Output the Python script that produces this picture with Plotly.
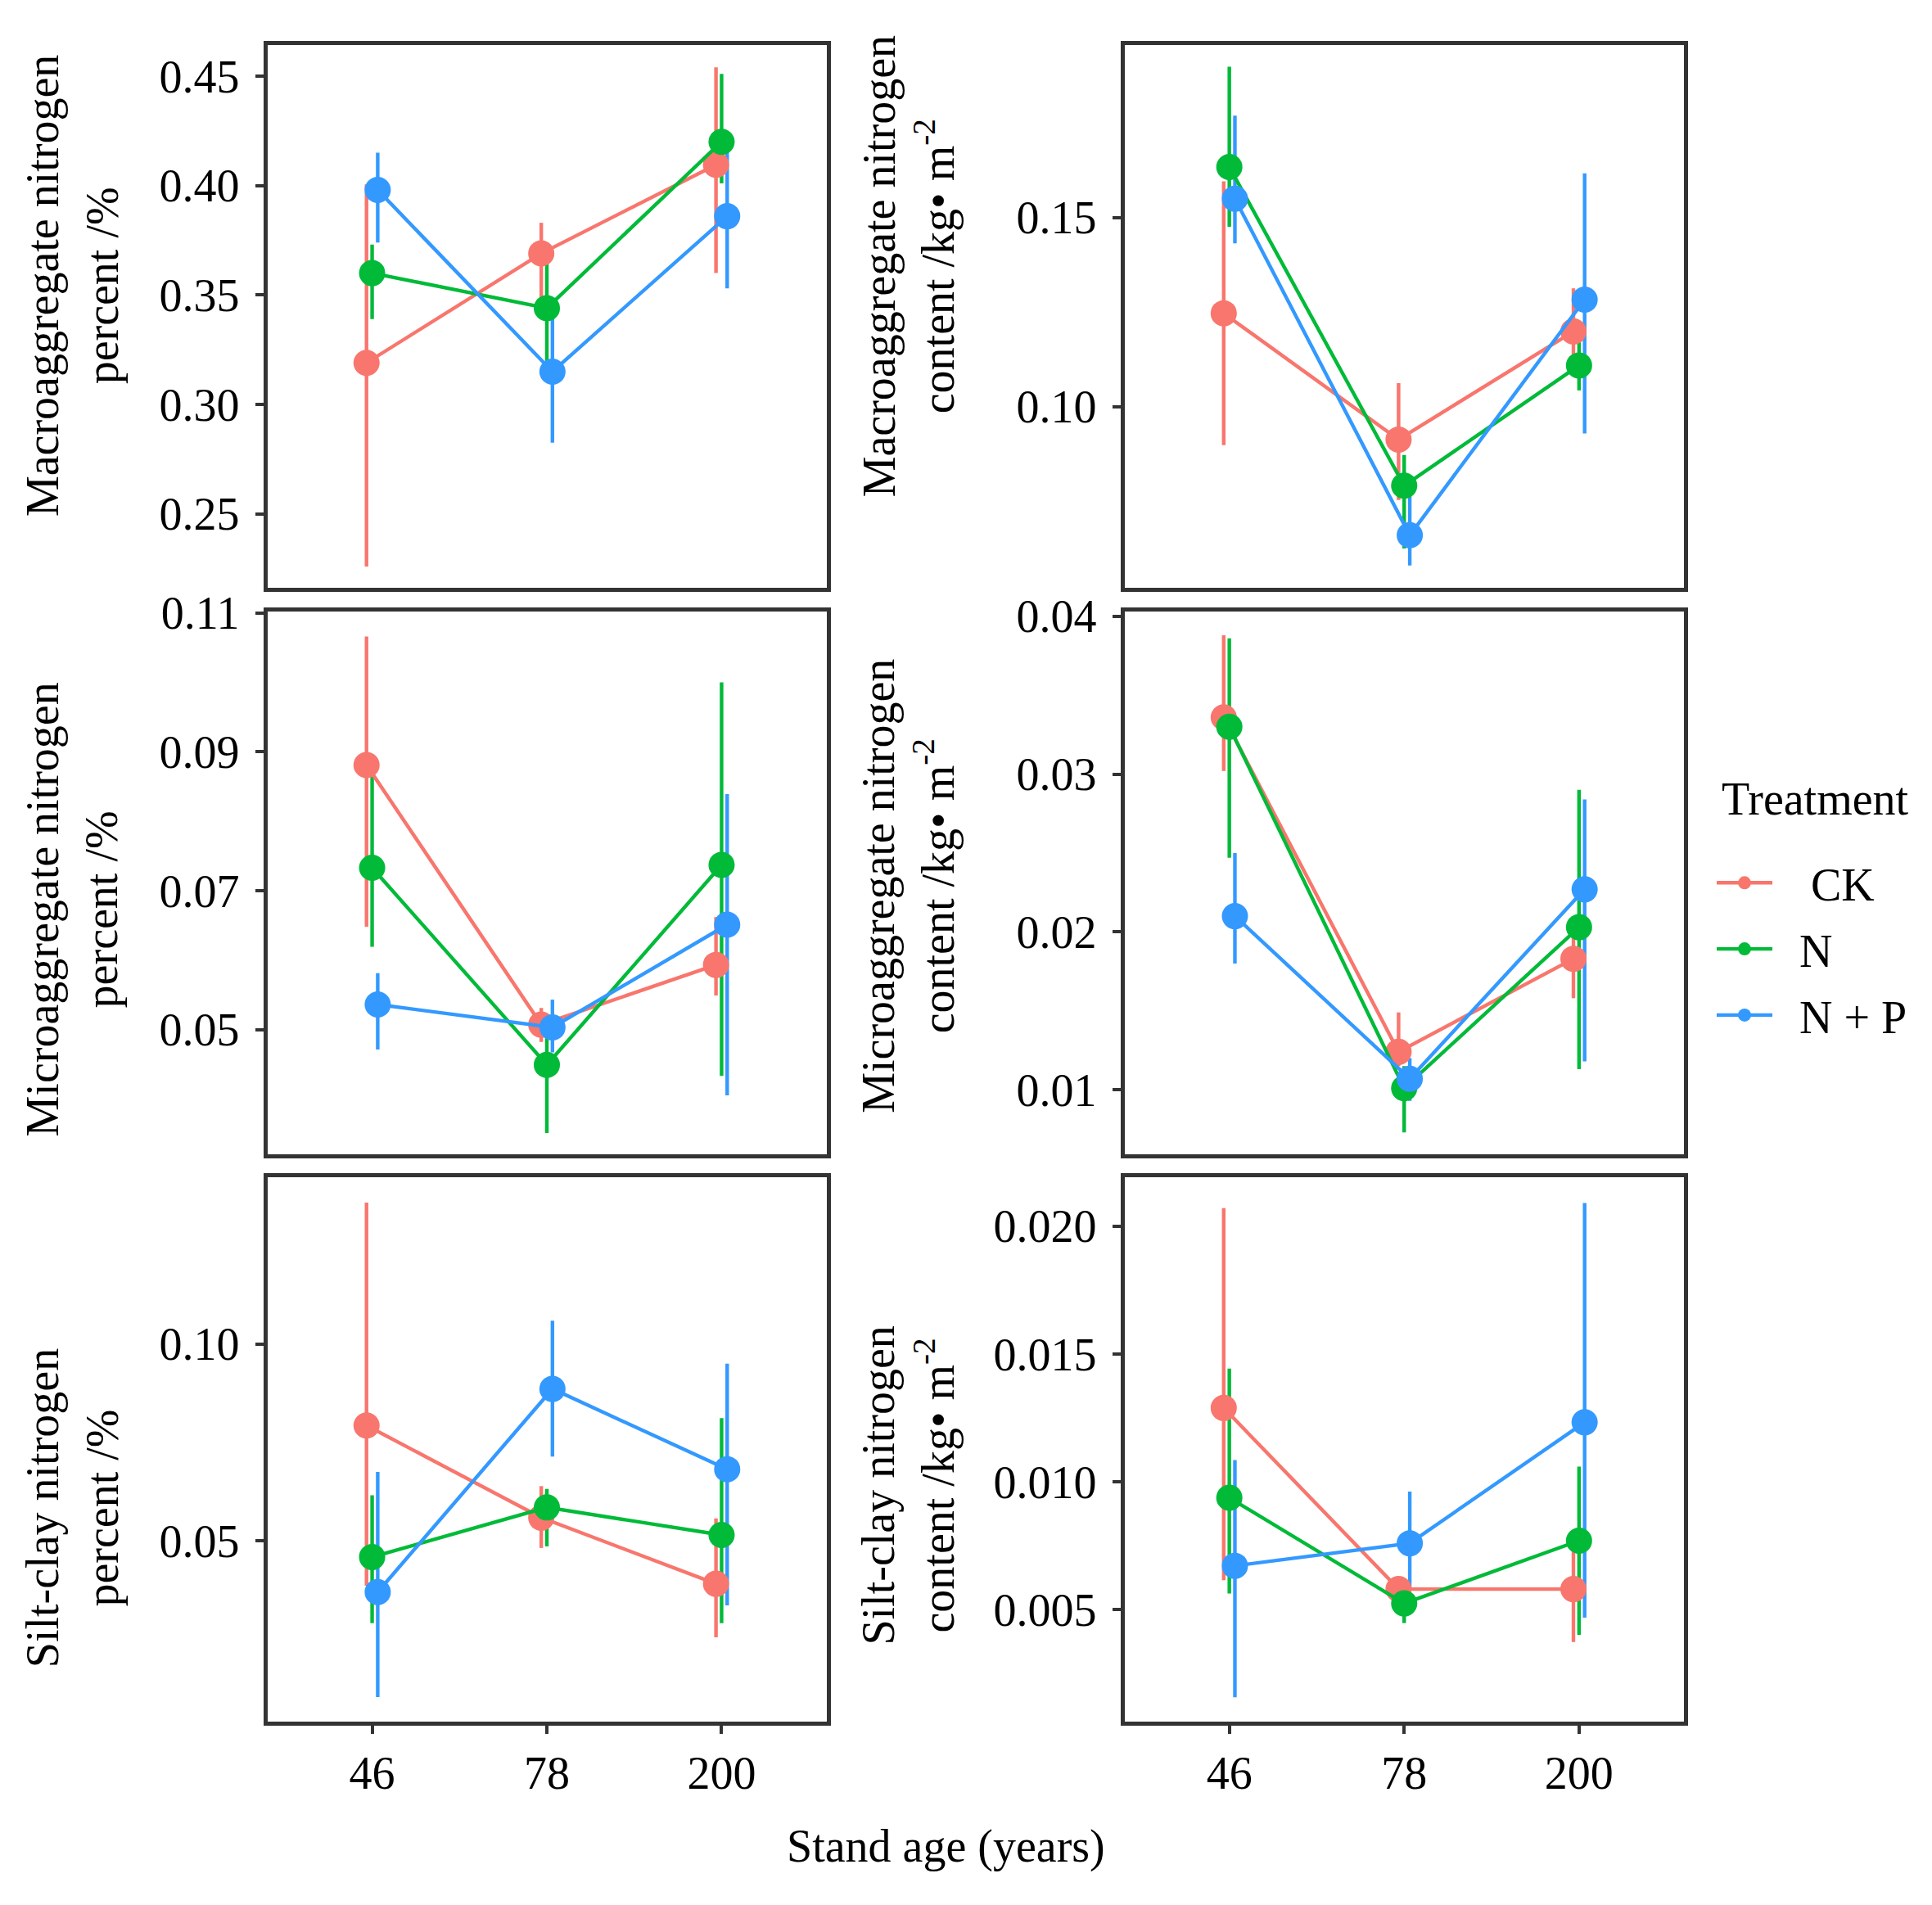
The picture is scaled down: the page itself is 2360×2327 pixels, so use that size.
import plotly.graph_objects as go
from plotly.subplots import make_subplots

# ---- data (mean, lower end, upper end of the error bar) ----
ages = ["46", "78", "200"]
treatments = ["CK", "N", "N + P"]

# rows: CK, N, N + P ; columns: 46, 78, 200 years
macro_pct_mean = [[0.319, 0.369, 0.4095], [0.360, 0.344, 0.420], [0.398, 0.315, 0.386]]
macro_pct_lo = [[0.226, 0.347, 0.360], [0.339, 0.318, 0.401], [0.374, 0.2825, 0.353]]
macro_pct_hi = [[0.4005, 0.383, 0.454], [0.373, 0.373, 0.451], [0.415, 0.3475, 0.416]]

macro_cont_mean = [[0.1247, 0.0913, 0.1199], [0.1634, 0.0791, 0.1109], [0.155, 0.066, 0.1283]]
macro_cont_lo = [[0.0898, 0.0753, 0.109], [0.1476, 0.0625, 0.1043], [0.1432, 0.058, 0.0929]]
macro_cont_hi = [[0.1596, 0.1062, 0.1313], [0.1899, 0.0872, 0.118], [0.177, 0.0763, 0.1617]]

micro_pct_mean = [[0.0881, 0.0507, 0.0593], [0.0733, 0.0449, 0.0737], [0.0536, 0.0503, 0.0651]]
micro_pct_lo = [[0.0648, 0.0482, 0.0549], [0.0619, 0.0351, 0.0433], [0.0471, 0.0467, 0.0405]]
micro_pct_hi = [[0.1066, 0.0531, 0.0662], [0.0868, 0.0497, 0.1000], [0.0581, 0.0543, 0.0839]]

micro_cont_mean = [[0.0336, 0.0124, 0.0183], [0.0330, 0.0101, 0.0203], [0.0210, 0.0107, 0.0227]]
micro_cont_lo = [[0.0302, 0.0115, 0.0158], [0.0247, 0.0073, 0.0113], [0.0180, 0.0093, 0.0118]]
micro_cont_hi = [[0.0388, 0.0149, 0.0196], [0.0386, 0.0115, 0.0290], [0.0250, 0.0120, 0.0284]]

silt_pct_mean = [[0.0793, 0.0559, 0.0391], [0.0459, 0.0585, 0.0515], [0.0370, 0.0886, 0.0682]]
silt_pct_lo = [[0.0386, 0.0482, 0.0255], [0.0291, 0.0486, 0.0291], [0.0103, 0.0714, 0.0336]]
silt_pct_hi = [[0.1359, 0.0639, 0.0557], [0.0616, 0.0632, 0.0812], [0.0675, 0.1059, 0.0950]]

silt_cont_mean = [[0.01289, 0.00581, 0.00581], [0.00938, 0.00525, 0.0077], [0.00672, 0.0076, 0.01233]]
silt_cont_lo = [[0.00616, 0.0055, 0.00374], [0.00564, 0.00448, 0.00402], [0.00158, 0.00574, 0.00469]]
silt_cont_hi = [[0.0207, 0.0061, 0.00735], [0.01443, 0.0058, 0.0106], [0.01085, 0.00962, 0.0209]]

# ---- styling ----
W, H = 2360, 2327
FONT = "Liberation Serif"
FS = 56
colors = ["#F8766D", "#00BA38", "#3399FF"]
legend_names = ["   CK", "  N", "  N + P"]
dodge = [-0.032, 0.0, 0.032]
frame = "#333333"

# panel edges in px (the page sits a little lower than the figure box)
col_dom = [(318.5, 1001.5), (1365.5, 2049)]
row_dom = [(18.5, 690), (719, 1390.5), (1419, 2092)]

# (row, col, mean, lo, hi, title, tickvals, tickformat, y range, title centre y px)
panels = [
    (1, 1, macro_pct_mean, macro_pct_lo, macro_pct_hi,
     "Macroaggregate nitrogen<br>percent /%",
     [0.25, 0.30, 0.35, 0.40, 0.45], ".2f", [0.2161, 0.4641], 316),
    (1, 2, macro_cont_mean, macro_cont_lo, macro_cont_hi,
     "Macroaggregate nitrogen<br>content /kg• m<sup>-2</sup>",
     [0.10, 0.15], ".2f", [0.052, 0.1956], 292),
    (2, 1, micro_pct_mean, micro_pct_lo, micro_pct_hi,
     "Microaggregate nitrogen<br>percent /%",
     [0.05, 0.07, 0.09, 0.11], ".2f", [0.032, 0.1102], 1088),
    (2, 2, micro_cont_mean, micro_cont_lo, micro_cont_hi,
     "Microaggregate nitrogen<br>content /kg• m<sup>-2</sup>",
     [0.01, 0.02, 0.03, 0.04], ".2f", [0.0059, 0.0403], 1059),
    (3, 1, silt_pct_mean, silt_pct_lo, silt_pct_hi,
     "Silt-clay nitrogen<br>percent /%",
     [0.05, 0.10], ".2f", [0.0041, 0.1423], 1828),
    (3, 2, silt_cont_mean, silt_cont_lo, silt_cont_hi,
     "Silt-clay nitrogen<br>content /kg• m<sup>-2</sup>",
     [0.005, 0.010, 0.015, 0.020], ".3f", [0.00063, 0.0219], 1800),
]

fig = make_subplots(rows=3, cols=2)

for n, (r, c, mean, lo, hi, title, tv, tf, yr, ty) in enumerate(panels):
    # error bars first so every point sits on top of them
    for k in range(3):
        xs = [i + 1 + dodge[k] for i in range(3)]
        fig.add_trace(go.Scatter(
            x=xs, y=mean[k], mode="markers",
            marker=dict(size=2, opacity=0),
            error_y=dict(type="data", symmetric=False,
                         array=[h - m for h, m in zip(hi[k], mean[k])],
                         arrayminus=[m - l for m, l in zip(mean[k], lo[k])],
                         width=0, thickness=4.4, color=colors[k]),
            showlegend=False, hoverinfo="skip",
        ), row=r, col=c)
    for k in range(3):
        xs = [i + 1 + dodge[k] for i in range(3)]
        fig.add_trace(go.Scatter(
            x=xs, y=mean[k], mode="lines+markers",
            line=dict(color=colors[k], width=4.4),
            marker=dict(color=colors[k], size=32),
            name=legend_names[k], legendgroup=treatments[k],
            showlegend=(n == 0),
        ), row=r, col=c)

    idx = "" if n == 0 else str(n + 1)
    x0, x1 = col_dom[c - 1]
    y0, y1 = row_dom[r - 1]
    bottom = (r == 3)
    fig.layout["xaxis" + idx].update(
        domain=[x0 / W, x1 / W], range=[0.4, 3.6],
        tickvals=[1, 2, 3], ticktext=ages,
        showticklabels=bottom, ticks="outside" if bottom else "",
        ticklen=10, tickwidth=3.5, tickcolor=frame,
        showline=True, mirror=True, linecolor=frame, linewidth=4.5,
        showgrid=False, zeroline=False,
        tickfont=dict(family=FONT, size=FS, color="black"),
    )
    fig.layout["yaxis" + idx].update(
        domain=[1 - y1 / H, 1 - y0 / H], range=yr,
        tickvals=tv, tickformat=tf, ticks="outside",
        ticklen=10, tickwidth=3.5, tickcolor=frame, ticklabelstandoff=8,
        showline=True, mirror=True, linecolor=frame, linewidth=4.5,
        showgrid=False, zeroline=False,
        tickfont=dict(family=FONT, size=FS, color="black"),
    )
    tx = 80 if c == 1 else 1102
    fig.add_annotation(
        text=title, xref="paper", yref="paper", x=tx / W, y=1 - ty / H,
        xanchor="center", yanchor="middle", textangle=-90, showarrow=False,
        font=dict(family=FONT, size=FS, color="black"),
    )

fig.add_annotation(
    text="Stand age (years)", xref="paper", yref="paper",
    x=1147 / W, y=1 - 2246 / H, xanchor="center", yanchor="middle",
    showarrow=False, font=dict(family=FONT, size=FS, color="black"),
)
fig.add_annotation(
    text="Treatment", xref="paper", yref="paper",
    x=2093 / W, y=1 - 951 / H, xanchor="left", yanchor="middle",
    showarrow=False, font=dict(family=FONT, size=FS, color="black"),
)

fig.update_layout(
    width=W, height=H,
    margin=dict(l=0, r=0, t=0, b=0),
    paper_bgcolor="white", plot_bgcolor="white",
    font=dict(family=FONT, size=FS, color="black"),
    legend=dict(
        x=2084 / W, y=1 - 1011 / H, xanchor="left", yanchor="top",
        font=dict(family=FONT, size=FS), tracegroupgap=5,
        itemwidth=68, bgcolor="rgba(0,0,0,0)",
    ),
)

fig.write_html("out.html")
